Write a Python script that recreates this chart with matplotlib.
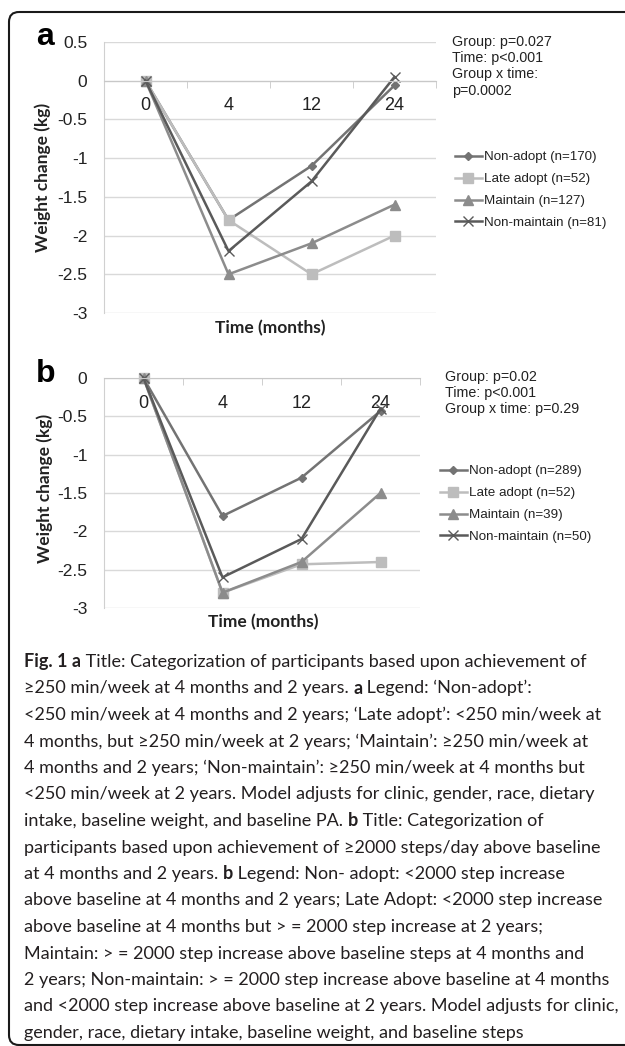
import matplotlib
matplotlib.use('Agg')
import matplotlib.pyplot as plt
from matplotlib.patches import FancyBboxPatch
import numpy as np

plt.rcParams['font.family'] = ['Liberation Sans', 'DejaVu Sans']

# ---- data ----
months = ['0', '4', '12', '24']
groups = ['Non-adopt', 'Late adopt', 'Maintain', 'Non-maintain']
n_a = [170, 52, 127, 81]
n_b = [289, 52, 39, 50]

nonadopt_a = [0, -1.8, -1.1, -0.06]
lateadopt_a = [0, -1.8, -2.5, -2.0]
maintain_a = [0, -2.5, -2.1, -1.6]
nonmaintain_a = [0, -2.2, -1.3, 0.05]

nonadopt_b = [0, -1.8, -1.3, -0.43]
lateadopt_b = [0, -2.8, -2.43, -2.4]
maintain_b = [0, -2.8, -2.4, -1.5]
nonmaintain_b = [0, -2.6, -2.1, -0.4]

yticks_a = [0.5, 0, -0.5, -1, -1.5, -2, -2.5, -3]
yticks_b = [0, -0.5, -1, -1.5, -2, -2.5, -3]

stats_a = 'Group: p=0.027\nTime: p<0.001\nGroup x time:\np=0.0002'
stats_b = 'Group: p=0.02\nTime: p<0.001\nGroup x time: p=0.29'

caption = [
    [('Fig. 1 a', True), (' Title: Categorization of participants based upon achievement of', False)],
    [('\u2265250 min/week at 4 months and 2 years. ', False), ('a', True), (' Legend: \u2018Non-adopt\u2019:', False)],
    [('<250 min/week at 4 months and 2 years; \u2018Late adopt\u2019: <250 min/week at', False)],
    [('4 months, but \u2265250 min/week at 2 years; \u2018Maintain\u2019: \u2265250 min/week at', False)],
    [('4 months and 2 years; \u2018Non-maintain\u2019: \u2265250 min/week at 4 months but', False)],
    [('<250 min/week at 2 years. Model adjusts for clinic, gender, race, dietary', False)],
    [('intake, baseline weight, and baseline PA. ', False), ('b', True), (' Title: Categorization of', False)],
    [('participants based upon achievement of \u22652000 steps/day above baseline', False)],
    [('at 4 months and 2 years. ', False), ('b', True), (' Legend: Non- adopt: <2000 step increase', False)],
    [('above baseline at 4 months and 2 years; Late Adopt: <2000 step increase', False)],
    [('above baseline at 4 months but > = 2000 step increase at 2 years;', False)],
    [('Maintain: > = 2000 step increase above baseline steps at 4 months and', False)],
    [('2 years; Non-maintain: > = 2000 step increase above baseline at 4 months', False)],
    [('and <2000 step increase above baseline at 2 years. Model adjusts for clinic,', False)],
    [('gender, race, dietary intake, baseline weight, and baseline steps', False)],
]

styles = [
    dict(color='#737373', marker='D', markersize=4.5),
    dict(color='#bdbdbd', marker='s', markersize=7),
    dict(color='#8c8c8c', marker='^', markersize=7.5),
    dict(color='#5a5a5a', marker='x', markersize=7, markeredgewidth=1),
]

W, H = 625, 1046
fig = plt.figure(figsize=(W / 100, H / 100), dpi=100)


def box(l, t, r, b):
    return [l / W, 1 - b / H, (r - l) / W, (b - t) / H]


def draw_panel(ax, series, ns, yticks):
    x = np.arange(len(months))
    for vals, name, n, st in zip(series, groups, ns, styles):
        ax.plot(x, vals, lw=1.8, label=f'{name} (n={n})', clip_on=False, **st)
    ax.set_xlim(-0.5, 3.5)
    ax.set_ylim(min(yticks), max(yticks))
    ax.set_yticks(yticks)
    ax.set_yticklabels([f'{v:g}' for v in yticks])
    ax.yaxis.grid(True, color='#d9d9d9', lw=1)
    ax.set_axisbelow(True)
    ax.spines['top'].set_visible(False)
    ax.spines['right'].set_visible(False)
    ax.spines['bottom'].set_position(('data', 0))
    ax.spines['bottom'].set_color('#c8c8c8')
    ax.spines['left'].set_color('#d0d0d0')
    ax.set_xticks(x)
    ax.set_xticklabels(months)
    ax.set_xticks(np.arange(-0.5, 4), minor=True)
    ax.tick_params(axis='x', which='major', length=0, pad=12, labelsize=13, colors='#222222')
    ax.tick_params(axis='x', which='minor', length=5, direction='out', color='#c8c8c8')
    ax.tick_params(axis='y', length=0, pad=12, labelsize=12.5, colors='#222222')


ax_a = fig.add_axes(box(104, 42, 436, 313))
draw_panel(ax_a, [nonadopt_a, lateadopt_a, maintain_a, nonmaintain_a], n_a, yticks_a)
ax_b = fig.add_axes(box(104, 378, 420, 608))
draw_panel(ax_b, [nonadopt_b, lateadopt_b, maintain_b, nonmaintain_b], n_b, yticks_b)

for ax, lx, ly in [(ax_a, 455, 151), (ax_b, 440, 465)]:
    leg = ax.legend(loc='upper left', bbox_to_anchor=(lx / W, 1 - ly / H),
                    bbox_transform=fig.transFigure, frameon=False, fontsize=9.6,
                    handlelength=2.0, handletextpad=0.2, labelspacing=0.72,
                    borderaxespad=0, borderpad=0)
    for t in leg.get_texts():
        t.set_color('#222222')

# background axes in pixel coordinates for the frame, labels and caption
bg = fig.add_axes([0, 0, 1, 1], zorder=-1)
bg.set_xlim(0, W)
bg.set_ylim(H, 0)
bg.axis('off')
bg.add_patch(FancyBboxPatch((9, 12), 640, 1033, boxstyle='round,pad=0,rounding_size=10',
                            fill=False, lw=1.5, ec='#1a1a1a'))

bg.text(452, 35, stats_a, ha='left', va='top', fontsize=10.3, linespacing=1.2, color='#222222')
bg.text(445, 370, stats_b, ha='left', va='top', fontsize=10.3, linespacing=1.2, color='#222222')

lato = ['Lato', 'DejaVu Sans']
for (px, py), (tx, ty) in [((43, 177), (270, 328)), ((45, 488), (263, 622))]:
    bg.text(px, py, 'Weight change (kg)', rotation=90, ha='center', va='center',
            fontsize=12.5, fontweight='bold', family=lato, color='#222222')
    bg.text(tx, ty, 'Time (months)', ha='center', va='center',
            fontsize=12.5, fontweight='bold', family=lato, color='#222222')

bg.text(36, 45, 'a', ha='left', va='baseline', fontsize=23, fontweight='bold')
bg.text(36, 382, 'b', ha='left', va='baseline', fontsize=23, fontweight='bold')

y = 662
for line in caption:
    prev = None
    for txt, bold in line:
        kw = dict(fontsize=13, family=lato, fontweight='bold' if bold else 'normal', color='#231f20')
        if prev is None:
            prev = bg.text(24, y, txt, ha='left', va='center', **kw)
        else:
            prev = bg.annotate(txt, xy=(1, 0), xycoords=prev, ha='left', va='bottom', **kw)
    y += 26.5

fig.savefig('out.png', dpi=100)
